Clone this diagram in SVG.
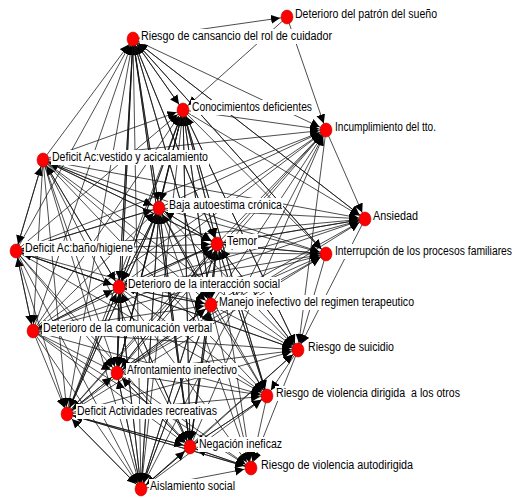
<svg xmlns="http://www.w3.org/2000/svg" width="519" height="498" viewBox="0 0 519 498">
<style>
.bg{fill:#fff}
#edges path{fill:none;stroke:#111;stroke-width:0.75;marker-end:url(#ah)}
.lb{fill:#fff}
.tx{font-family:"Liberation Sans",Arial,sans-serif;font-size:12px;fill:#000}
.nd{fill:#f00;stroke:#a00;stroke-width:0.5}
</style>
<defs>
<marker id="ah" markerUnits="userSpaceOnUse" markerWidth="30" markerHeight="30" viewBox="0 0 30 30" refX="16" refY="4.5" orient="auto">
<path d="M0,0 L9,4.5 L0,9 z" fill="#000"/>
</marker>
</defs>
<rect class="bg" x="0" y="0" width="519" height="498"/>
<g id="edges">
<path d="M133 39L287 17"/>
<path d="M183 110L133 39"/><path d="M43 160L133 39"/><path d="M159 208L133 39"/><path d="M217 244L133 39"/><path d="M16 251L133 39"/><path d="M119 287L133 39"/><path d="M211 305L133 39"/><path d="M33 331L133 39"/><path d="M117 373L133 39"/><path d="M67 414L133 39"/><path d="M190 447L133 39"/><path d="M141 489L133 39"/><path d="M326 254L133 39"/><path d="M365 219L133 39"/>
<path d="M133 39L183 110"/><path d="M287 17L183 110"/><path d="M159 208L183 110"/><path d="M217 244L183 110"/><path d="M119 287L183 110"/><path d="M211 305L183 110"/><path d="M117 373L183 110"/><path d="M190 447L183 110"/><path d="M141 489L183 110"/><path d="M16 251L183 110"/><path d="M43 160L183 110"/><path d="M67 414L183 110"/><path d="M33 331L183 110"/><path d="M267 396L183 110"/><path d="M298 350L183 110"/>
<path d="M287 17L326 130"/><path d="M133 39L326 130"/><path d="M183 110L326 130"/><path d="M159 208L326 130"/><path d="M217 244L326 130"/><path d="M119 287L326 130"/><path d="M43 160L326 130"/><path d="M16 251L326 130"/><path d="M211 305L326 130"/><path d="M117 373L326 130"/><path d="M33 331L326 130"/><path d="M67 414L326 130"/><path d="M190 447L326 130"/><path d="M141 489L326 130"/>
<path d="M159 208L43 160"/><path d="M119 287L43 160"/><path d="M217 244L43 160"/><path d="M16 251L43 160"/>
<path d="M133 39L159 208"/><path d="M43 160L159 208"/><path d="M16 251L159 208"/><path d="M119 287L159 208"/><path d="M33 331L159 208"/><path d="M117 373L159 208"/><path d="M67 414L159 208"/><path d="M141 489L159 208"/><path d="M190 447L159 208"/><path d="M211 305L159 208"/><path d="M217 244L159 208"/><path d="M183 110L159 208"/>
<path d="M133 39L365 219"/><path d="M326 130L365 219"/><path d="M183 110L365 219"/><path d="M159 208L365 219"/><path d="M217 244L365 219"/><path d="M119 287L365 219"/><path d="M211 305L365 219"/><path d="M43 160L365 219"/><path d="M16 251L365 219"/><path d="M117 373L365 219"/><path d="M33 331L365 219"/>
<path d="M133 39L217 244"/><path d="M183 110L217 244"/><path d="M43 160L217 244"/><path d="M159 208L217 244"/><path d="M16 251L217 244"/><path d="M119 287L217 244"/><path d="M211 305L217 244"/><path d="M33 331L217 244"/><path d="M117 373L217 244"/><path d="M67 414L217 244"/><path d="M190 447L217 244"/><path d="M141 489L217 244"/><path d="M326 254L217 244"/><path d="M365 219L217 244"/><path d="M298 350L217 244"/><path d="M267 396L217 244"/>
<path d="M43 160L16 251"/><path d="M159 208L16 251"/><path d="M119 287L16 251"/><path d="M33 331L16 251"/>
<path d="M133 39L326 254"/><path d="M183 110L326 254"/><path d="M159 208L326 254"/><path d="M217 244L326 254"/><path d="M119 287L326 254"/><path d="M211 305L326 254"/><path d="M117 373L326 254"/><path d="M16 251L326 254"/><path d="M43 160L326 254"/><path d="M33 331L326 254"/><path d="M67 414L326 254"/>
<path d="M133 39L119 287"/><path d="M183 110L119 287"/><path d="M43 160L119 287"/><path d="M159 208L119 287"/><path d="M217 244L119 287"/><path d="M16 251L119 287"/><path d="M211 305L119 287"/><path d="M33 331L119 287"/><path d="M117 373L119 287"/><path d="M67 414L119 287"/><path d="M190 447L119 287"/><path d="M141 489L119 287"/>
<path d="M133 39L211 305"/><path d="M183 110L211 305"/><path d="M43 160L211 305"/><path d="M159 208L211 305"/><path d="M217 244L211 305"/><path d="M16 251L211 305"/><path d="M119 287L211 305"/><path d="M33 331L211 305"/><path d="M117 373L211 305"/><path d="M67 414L211 305"/><path d="M190 447L211 305"/><path d="M141 489L211 305"/>
<path d="M43 160L33 331"/><path d="M16 251L33 331"/><path d="M119 287L33 331"/>
<path d="M183 110L298 350"/><path d="M326 130L298 350"/><path d="M43 160L298 350"/><path d="M159 208L298 350"/><path d="M365 219L298 350"/><path d="M217 244L298 350"/><path d="M16 251L298 350"/><path d="M326 254L298 350"/><path d="M119 287L298 350"/><path d="M211 305L298 350"/><path d="M33 331L298 350"/><path d="M117 373L298 350"/><path d="M67 414L298 350"/><path d="M190 447L298 350"/><path d="M141 489L298 350"/>
<path d="M133 39L117 373"/><path d="M183 110L117 373"/><path d="M43 160L117 373"/><path d="M159 208L117 373"/><path d="M217 244L117 373"/><path d="M16 251L117 373"/><path d="M119 287L117 373"/><path d="M211 305L117 373"/><path d="M33 331L117 373"/><path d="M67 414L117 373"/><path d="M190 447L117 373"/><path d="M141 489L117 373"/>
<path d="M183 110L267 396"/><path d="M43 160L267 396"/><path d="M159 208L267 396"/><path d="M217 244L267 396"/><path d="M16 251L267 396"/><path d="M119 287L267 396"/><path d="M211 305L267 396"/><path d="M33 331L267 396"/><path d="M298 350L267 396"/><path d="M117 373L267 396"/><path d="M67 414L267 396"/><path d="M190 447L267 396"/><path d="M141 489L267 396"/>
<path d="M43 160L67 414"/><path d="M159 208L67 414"/><path d="M16 251L67 414"/><path d="M119 287L67 414"/><path d="M33 331L67 414"/><path d="M117 373L67 414"/><path d="M190 447L67 414"/><path d="M251 468L67 414"/><path d="M141 489L67 414"/>
<path d="M133 39L190 447"/><path d="M183 110L190 447"/><path d="M43 160L190 447"/><path d="M159 208L190 447"/><path d="M217 244L190 447"/><path d="M16 251L190 447"/><path d="M119 287L190 447"/><path d="M211 305L190 447"/><path d="M33 331L190 447"/><path d="M117 373L190 447"/><path d="M267 396L190 447"/><path d="M67 414L190 447"/><path d="M251 468L190 447"/><path d="M141 489L190 447"/>
<path d="M159 208L251 468"/><path d="M217 244L251 468"/><path d="M119 287L251 468"/><path d="M211 305L251 468"/><path d="M33 331L251 468"/><path d="M298 350L251 468"/><path d="M117 373L251 468"/><path d="M267 396L251 468"/><path d="M67 414L251 468"/><path d="M190 447L251 468"/><path d="M141 489L251 468"/>
<path d="M43 160L141 489"/><path d="M159 208L141 489"/><path d="M217 244L141 489"/><path d="M16 251L141 489"/><path d="M119 287L141 489"/><path d="M211 305L141 489"/><path d="M33 331L141 489"/><path d="M117 373L141 489"/><path d="M67 414L141 489"/><path d="M190 447L141 489"/>
</g>
<g id="n-sueno"><rect class="lb" x="294" y="7" width="144" height="15"/><text class="tx" x="295" y="18" textLength="142" lengthAdjust="spacingAndGlyphs">Deterioro del patrón del sueño</text><ellipse class="nd" cx="287" cy="17" rx="6" ry="7"/></g>
<g id="n-cansancio"><rect class="lb" x="140" y="29" width="193" height="15"/><text class="tx" x="141" y="40" textLength="191" lengthAdjust="spacingAndGlyphs">Riesgo de cansancio del rol de cuidador</text><ellipse class="nd" cx="133" cy="39" rx="6" ry="7"/></g>
<g id="n-conocimientos"><rect class="lb" x="191" y="100" width="122" height="15"/><text class="tx" x="192" y="111" textLength="120" lengthAdjust="spacingAndGlyphs">Conocimientos deficientes</text><ellipse class="nd" cx="183" cy="110" rx="6" ry="7"/></g>
<g id="n-incumplimiento"><rect class="lb" x="334" y="120" width="103" height="15"/><text class="tx" x="335" y="131" textLength="101" lengthAdjust="spacingAndGlyphs">Incumplimiento del tto.</text><ellipse class="nd" cx="326" cy="130" rx="6" ry="7"/></g>
<g id="n-vestido"><rect class="lb" x="51" y="150" width="158" height="15"/><text class="tx" x="52" y="161" textLength="156" lengthAdjust="spacingAndGlyphs">Deficit Ac:vestido y acicalamiento</text><ellipse class="nd" cx="43" cy="160" rx="6" ry="7"/></g>
<g id="n-baja"><rect class="lb" x="168" y="198" width="115" height="15"/><text class="tx" x="169" y="209" textLength="113" lengthAdjust="spacingAndGlyphs">Baja autoestima crónica</text><ellipse class="nd" cx="159" cy="208" rx="6" ry="7"/></g>
<g id="n-ansiedad"><rect class="lb" x="372" y="209" width="47" height="15"/><text class="tx" x="373" y="220" textLength="45" lengthAdjust="spacingAndGlyphs">Ansiedad</text><ellipse class="nd" cx="365" cy="219" rx="6" ry="7"/></g>
<g id="n-temor"><rect class="lb" x="226" y="234" width="32" height="15"/><text class="tx" x="227" y="245" textLength="30" lengthAdjust="spacingAndGlyphs">Temor</text><ellipse class="nd" cx="217" cy="244" rx="6" ry="7"/></g>
<g id="n-bano"><rect class="lb" x="24" y="241" width="110" height="15"/><text class="tx" x="25" y="252" textLength="108" lengthAdjust="spacingAndGlyphs">Deficit Ac:baño/higiene</text><ellipse class="nd" cx="16" cy="251" rx="6" ry="7"/></g>
<g id="n-interrupcion"><rect class="lb" x="334" y="244" width="179" height="15"/><text class="tx" x="335" y="255" textLength="177" lengthAdjust="spacingAndGlyphs">Interrupción de los procesos familiares</text><ellipse class="nd" cx="326" cy="254" rx="6" ry="7"/></g>
<g id="n-interaccion"><rect class="lb" x="127" y="277" width="154" height="15"/><text class="tx" x="128" y="288" textLength="152" lengthAdjust="spacingAndGlyphs">Deterioro de la interacción social</text><ellipse class="nd" cx="119" cy="287" rx="6" ry="7"/></g>
<g id="n-manejo"><rect class="lb" x="218" y="295" width="197" height="15"/><text class="tx" x="219" y="306" textLength="195" lengthAdjust="spacingAndGlyphs">Manejo inefectivo del regimen terapeutico</text><ellipse class="nd" cx="211" cy="305" rx="6" ry="7"/></g>
<g id="n-comunicacion"><rect class="lb" x="42" y="321" width="171" height="15"/><text class="tx" x="43" y="332" textLength="169" lengthAdjust="spacingAndGlyphs">Deterioro de la comunicación verbal</text><ellipse class="nd" cx="33" cy="331" rx="6" ry="7"/></g>
<g id="n-suicidio"><rect class="lb" x="307" y="340" width="88" height="15"/><text class="tx" x="308" y="351" textLength="86" lengthAdjust="spacingAndGlyphs">Riesgo de suicidio</text><ellipse class="nd" cx="298" cy="350" rx="6" ry="7"/></g>
<g id="n-afrontamiento"><rect class="lb" x="126" y="363" width="112" height="15"/><text class="tx" x="127" y="374" textLength="110" lengthAdjust="spacingAndGlyphs">Afrontamiento inefectivo</text><ellipse class="nd" cx="117" cy="373" rx="6" ry="7"/></g>
<g id="n-violotros"><rect class="lb" x="275" y="386" width="186" height="15"/><text class="tx" x="276" y="397" textLength="184" lengthAdjust="spacingAndGlyphs" xml:space="preserve">Riesgo de violencia dirigida  a los otros</text><ellipse class="nd" cx="267" cy="396" rx="6" ry="7"/></g>
<g id="n-recreativas"><rect class="lb" x="76" y="404" width="142" height="15"/><text class="tx" x="77" y="415" textLength="140" lengthAdjust="spacingAndGlyphs">Deficit Actividades recreativas</text><ellipse class="nd" cx="67" cy="414" rx="6" ry="7"/></g>
<g id="n-negacion"><rect class="lb" x="198" y="437" width="85" height="15"/><text class="tx" x="199" y="448" textLength="83" lengthAdjust="spacingAndGlyphs">Negación ineficaz</text><ellipse class="nd" cx="190" cy="447" rx="6" ry="7"/></g>
<g id="n-violauto"><rect class="lb" x="260" y="458" width="154" height="15"/><text class="tx" x="261" y="469" textLength="152" lengthAdjust="spacingAndGlyphs">Riesgo de violencia autodirigida</text><ellipse class="nd" cx="251" cy="468" rx="6" ry="7"/></g>
<g id="n-aislamiento"><rect class="lb" x="149" y="479" width="87" height="15"/><text class="tx" x="150" y="490" textLength="85" lengthAdjust="spacingAndGlyphs">Aislamiento social</text><ellipse class="nd" cx="141" cy="489" rx="6" ry="7"/></g>
</svg>
